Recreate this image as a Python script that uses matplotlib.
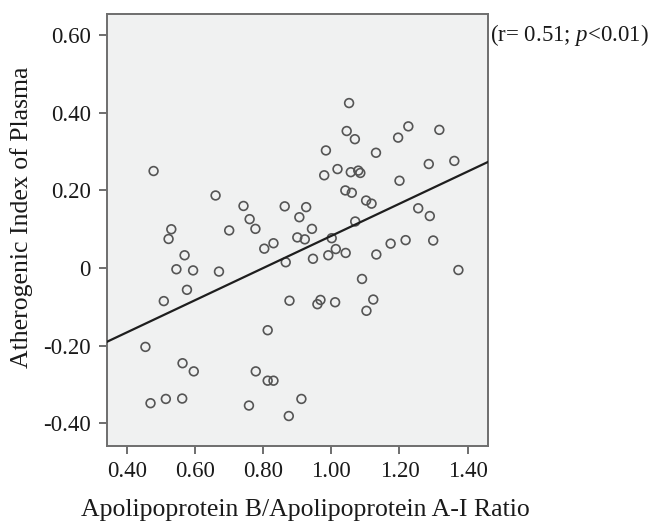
import numpy as np
import matplotlib; matplotlib.use("Agg")
import matplotlib.pyplot as plt
import matplotlib.transforms as mtransforms

plt.rcParams["font.family"] = ["Liberation Serif", "DejaVu Serif"]
plt.rcParams["mathtext.fontset"] = "custom"
plt.rcParams["mathtext.rm"] = "Liberation Serif"
plt.rcParams["mathtext.it"] = "Liberation Serif:italic"

# ApoB/ApoA-I ratio vs AIP
apo_ratio = [0.478, 0.660, 0.742, 0.863, 0.530, 0.522, 0.760, 0.777, 0.700, 0.830,
             0.803, 0.866, 0.569, 0.545, 0.594, 0.670, 0.576, 0.508, 0.877, 0.813,
             0.454, 0.563, 0.596, 0.778, 0.813, 0.830, 0.469, 0.514, 0.562, 0.758,
             0.875, 0.912, 1.052, 1.045, 1.069, 1.226, 1.196, 1.317, 0.984, 1.131,
             1.286, 1.361, 1.018, 0.979, 1.057, 1.079, 1.085, 1.200, 1.041, 1.060,
             1.102, 1.118, 1.255, 1.289, 0.926, 0.906, 0.943, 0.900, 0.922, 1.001,
             1.070, 1.013, 0.991, 0.946, 1.042, 1.132, 1.174, 1.218, 1.299, 1.373,
             1.090, 0.959, 0.968, 1.011, 1.123, 1.103]
aip = [0.250, 0.187, 0.160, 0.159, 0.100, 0.075, 0.126, 0.101, 0.097, 0.064,
       0.050, 0.015, 0.033, -0.003, -0.006, -0.009, -0.056, -0.085, -0.084, -0.160,
       -0.203, -0.245, -0.266, -0.266, -0.290, -0.290, -0.348, -0.337, -0.336, -0.354,
       -0.381, -0.337, 0.425, 0.353, 0.332, 0.365, 0.336, 0.356, 0.303, 0.297,
       0.268, 0.276, 0.255, 0.239, 0.247, 0.251, 0.245, 0.225, 0.200, 0.194,
       0.174, 0.166, 0.154, 0.134, 0.157, 0.131, 0.101, 0.079, 0.074, 0.077,
       0.120, 0.049, 0.033, 0.024, 0.039, 0.035, 0.063, 0.072, 0.071, -0.005,
       -0.028, -0.093, -0.082, -0.088, -0.081, -0.110]

fit_slope, fit_intercept = 0.414, -0.331
x_ticks = [0.40, 0.60, 0.80, 1.00, 1.20, 1.40]
x_ticklabels = ["0.40", "0.60", "0.80", "1.00", "1.20", "1.40"]
y_ticks = [-0.40, -0.20, 0.0, 0.20, 0.40, 0.60]
y_ticklabels = ["-0.40", "-0.20", "0", "0.20", "0.40", "0.60"]
XLIM = (0.341, 1.459)
YLIM = (-0.458, 0.654)

fig = plt.figure(figsize=(6.52, 5.24), dpi=100)
ax = fig.add_axes([0.164, 0.149, 0.584, 0.824])
ax.set_facecolor("#f0f1f1")

ax.scatter(apo_ratio, aip, s=6.3 ** 2, facecolors="none",
           edgecolors="#555555", linewidths=1.2, zorder=3)

xl = np.array(XLIM)
ax.plot(xl, fit_slope * xl + fit_intercept, color="#1e1e1e", lw=1.6, zorder=4)

ax.set_xlim(*XLIM)
ax.set_ylim(*YLIM)
ax.set_xticks(x_ticks, x_ticklabels)
ax.set_yticks(y_ticks, y_ticklabels)
ax.tick_params(axis="both", direction="out", length=5.5, width=1.2,
               color="#555555", labelsize=16.5, labelcolor="#1a1a1a")
ax.tick_params(axis="x", pad=5)
ax.tick_params(axis="y", pad=6)
for sp in ax.spines.values():
    sp.set_color("#6e6e6e")
    sp.set_linewidth(1.4)

ax.set_xlabel("Apolipoprotein B/Apolipoprotein A-I Ratio", fontsize=18.5,
              color="#1a1a1a")
ax.xaxis.set_label_coords(0.52, -0.163)
ax.xaxis.label.set_va("baseline")
ax.set_ylabel("Atherogenic Index of Plasma", fontsize=18.5, color="#1a1a1a")
ax.yaxis.set_label_coords(-0.195, 0.53)

trans = mtransforms.blended_transform_factory(ax.transAxes, ax.transData)
ax.text(1.006, 0.60, r"(r= 0.51; $p$<0.01)", transform=trans,
        ha="left", va="center", fontsize=16.5, color="#1a1a1a")

plt.savefig("out.png", dpi=100)
